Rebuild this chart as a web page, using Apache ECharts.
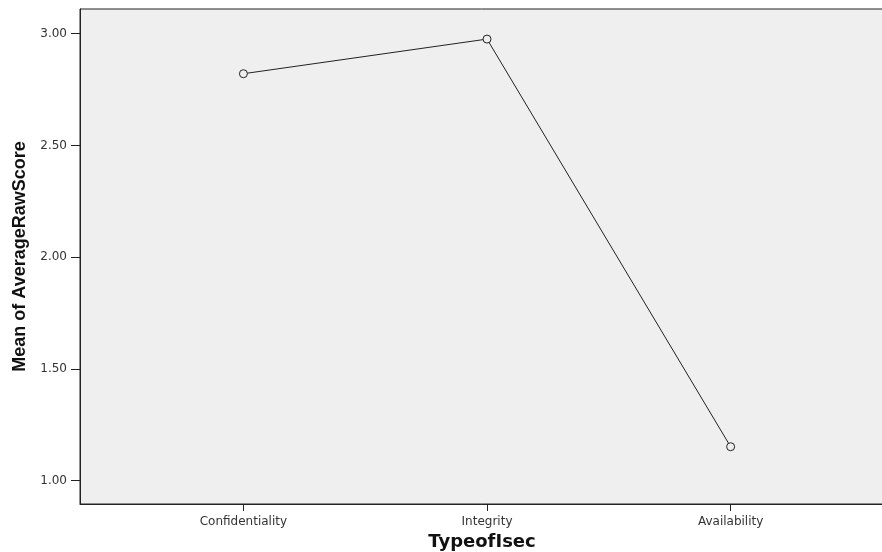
<!DOCTYPE html>
<html>
<head>
<meta charset="utf-8">
<script src="https://cdn.jsdelivr.net/npm/echarts@6/dist/echarts.min.js"></script>
<style>html,body{margin:0;padding:0;background:#fff}#c{width:882px;height:552px}</style>
</head>
<body>
<div id="c"></div>
<script>
var categories = ['Confidentiality', 'Integrity', 'Availability'];
var meanScores = [2.821, 2.976, 1.152];
var yTicks = [1.00, 1.50, 2.00, 2.50, 3.00];

var chart = echarts.init(document.getElementById('c'), null, {renderer: 'canvas'});
chart.setOption({
  animation: false,
  backgroundColor: '#ffffff',
  grid: {
    left: 80, top: 9, right: -2, bottom: 48,
    outerBoundsMode: 'none',
    containLabel: false,
    show: true, backgroundColor: '#efefef', borderColor: '#222', borderWidth: 1
  },
  xAxis: {
    type: 'value',
    min: -0.6708, max: 2.6296,
    name: 'TypeofIsec',
    nameLocation: 'middle',
    nameGap: 28,
    nameTextStyle: {fontFamily: 'DejaVu Sans', fontWeight: 'bold', fontSize: 18, color: '#111'},
    axisLine: {show: true, onZero: false, lineStyle: {color: '#222', width: 1}},
    axisTick: {show: true, length: 7, customValues: [0, 1, 2], lineStyle: {color: '#222'}},
    axisLabel: {
      customValues: [0, 1, 2],
      margin: 12,
      fontFamily: 'DejaVu Sans', fontSize: 12, color: '#333',
      formatter: function (v) { return categories[Math.round(v)]; }
    },
    splitLine: {show: false}
  },
  yAxis: {
    type: 'value',
    min: 0.8957, max: 3.1106,
    name: 'Mean of AverageRawScore',
    nameLocation: 'middle',
    nameGap: 50,
    nameTextStyle: {fontFamily: 'Liberation Sans', fontWeight: 'bold', fontSize: 18, color: '#111'},
    axisLine: {show: true, onZero: false, lineStyle: {color: '#222', width: 1}},
    axisTick: {show: true, length: 9, customValues: yTicks, lineStyle: {color: '#222'}},
    axisLabel: {
      customValues: yTicks,
      margin: 13,
      fontFamily: 'DejaVu Sans', fontSize: 12, color: '#333',
      formatter: function (v) { return v.toFixed(2); }
    },
    splitLine: {show: false}
  },
  series: [{
    type: 'line',
    data: meanScores.map(function (v, i) { return [i, v]; }),
    symbol: 'circle',
    symbolSize: 8,
    itemStyle: {color: '#efefef', borderColor: '#222', borderWidth: 1},
    lineStyle: {color: '#222', width: 1},
    silent: true
  }]
});
</script>
</body>
</html>
